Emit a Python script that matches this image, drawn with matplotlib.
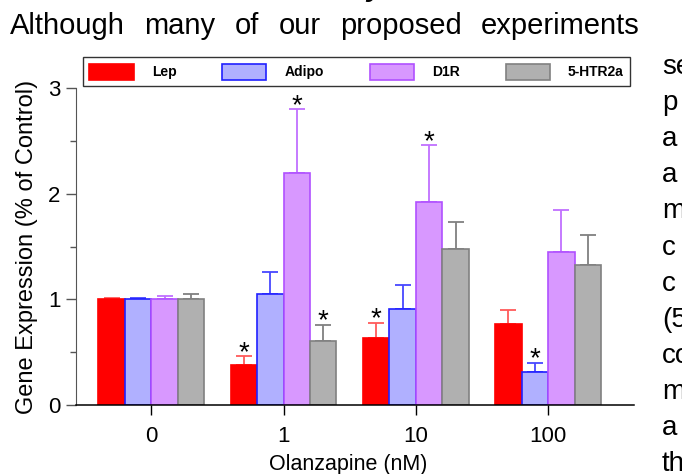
import matplotlib
matplotlib.use("Agg")
import matplotlib.pyplot as plt
import numpy as np
from matplotlib.ticker import MultipleLocator

plt.rcParams['font.family'] = ['Liberation Sans', 'DejaVu Sans']

# ---- data ----
doses = ["0", "1", "10", "100"]
genes = ["Lep", "Adipo", "D1R", "5-HTR2a"]
lep = [1.00, 0.38, 0.63, 0.77]
adipo = [1.00, 1.05, 0.91, 0.31]
d1r = [1.00, 2.20, 1.92, 1.45]
htr = [1.00, 0.61, 1.48, 1.33]
lep_err = [0.01, 0.08, 0.15, 0.13]
adipo_err = [0.01, 0.21, 0.23, 0.09]
d1r_err = [0.03, 0.60, 0.54, 0.40]
htr_err = [0.05, 0.15, 0.25, 0.28]
lep_sig = [False, True, True, False]
adipo_sig = [False, False, False, True]
d1r_sig = [False, True, True, False]
htr_sig = [False, True, False, False]

para_top_words = ["Although", "many", "of", "our", "proposed", "experiments"]
para_right = ["se", "p", "a", "a", "m", "c", "c", "(5", "co", "m", "a", "th"]

W, H = 682, 474
fig = plt.figure(figsize=(W / 100, H / 100), dpi=100)

def fx(px):
    return px / W

def fy(py):
    return 1 - py / H

# ---- surrounding document text (justified line) ----
renderer = fig.canvas.get_renderer()
word_texts = [fig.text(0, fy(34), wd, fontsize=21, ha='left', va='baseline')
              for wd in para_top_words]
widths = [t.get_window_extent(renderer).width for t in word_texts]
left_px, right_px = 10, 640
gap = (right_px - left_px - sum(widths)) / (len(widths) - 1)
cur = left_px
for t, w in zip(word_texts, widths):
    t.set_x(fx(cur))
    cur += w + gap
fig.text(fx(366), fy(-4), "y", fontsize=21, ha='left', va='baseline',
         fontweight='bold', fontstyle='italic')
for i, s in enumerate(para_right):
    fig.text(fx(662), fy(74 + 36.1 * i), s, fontsize=20, ha='left', va='baseline')

# ---- chart ----
ax = fig.add_axes([fx(76), fy(405), fx(634) - fx(76), fy(88.3) - fy(405)])

series = [
    (lep, lep_err, lep_sig, "#ff0000", "#ff0000", "#ff5a5a"),
    (adipo, adipo_err, adipo_sig, "#b0b0ff", "#2020ff", "#4848ff"),
    (d1r, d1r_err, d1r_sig, "#d898ff", "#b050ff", "#c070ff"),
    (htr, htr_err, htr_sig, "#b0b0b0", "#808080", "#808080"),
]
x = np.arange(len(doses))
bw = 0.2
offsets = [-0.3, -0.1, 0.1, 0.3]
for (vals, errs, sig, fc, ec, erc), off, name in zip(series, offsets, genes):
    xs = x + off
    ax.bar(xs, vals, width=bw, color=fc, edgecolor=ec, linewidth=1.2, label=name, zorder=2)
    ax.errorbar(xs, vals, yerr=[np.zeros(len(vals)), errs], fmt='none',
                ecolor=erc, elinewidth=1.3, capsize=6, capthick=1.3, zorder=1)
    for xi, v, e, s in zip(xs, vals, errs, sig):
        if s:
            ax.annotate("*", (xi, v + e), xytext=(0, -7), textcoords='offset points',
                        ha='center', va='bottom', fontsize=20, color='black')

ax.set_xlim(-0.569, 3.649)
ax.set_ylim(0, 3)
ax.set_xticks(x)
ax.set_xticklabels(doses, fontsize=16)
ax.yaxis.set_major_locator(MultipleLocator(1))
ax.yaxis.set_minor_locator(MultipleLocator(0.5))
ax.tick_params(axis='y', which='major', direction='out', length=7, width=1,
               color='#555555', labelsize=16, pad=4)
ax.tick_params(axis='y', which='minor', direction='out', length=4, width=1, color='#555555')
ax.tick_params(axis='x', which='major', direction='out', length=7, width=1,
               color='black', pad=8)
for side in ['top', 'right']:
    ax.spines[side].set_visible(False)
ax.spines['left'].set_color('#555555')
ax.spines['bottom'].set_color('black')
ax.spines['bottom'].set_linewidth(1.1)

ax.set_xlabel("Olanzapine (nM)", fontsize=15.5, labelpad=4)
ax.xaxis.set_label_coords((348 - 76) / (634 - 76), -0.155)
ax.set_ylabel("Gene Expression (% of Control)", fontsize=17, labelpad=7)

leg = ax.legend(loc='lower left', bbox_to_anchor=(fx(83), fy(86), fx(630) - fx(83), fy(57) - fy(86)),
                bbox_transform=fig.transFigure, mode='expand', ncol=4, borderaxespad=0,
                fancybox=False, frameon=True, edgecolor='#333333', framealpha=1,
                handlelength=3.2, handleheight=1.4, handletextpad=1.3, borderpad=0.45,
                columnspacing=1.0, prop={'weight': 'bold', 'size': 10})
leg.get_frame().set_linewidth(1)

fig.savefig("out.png", dpi=100)
